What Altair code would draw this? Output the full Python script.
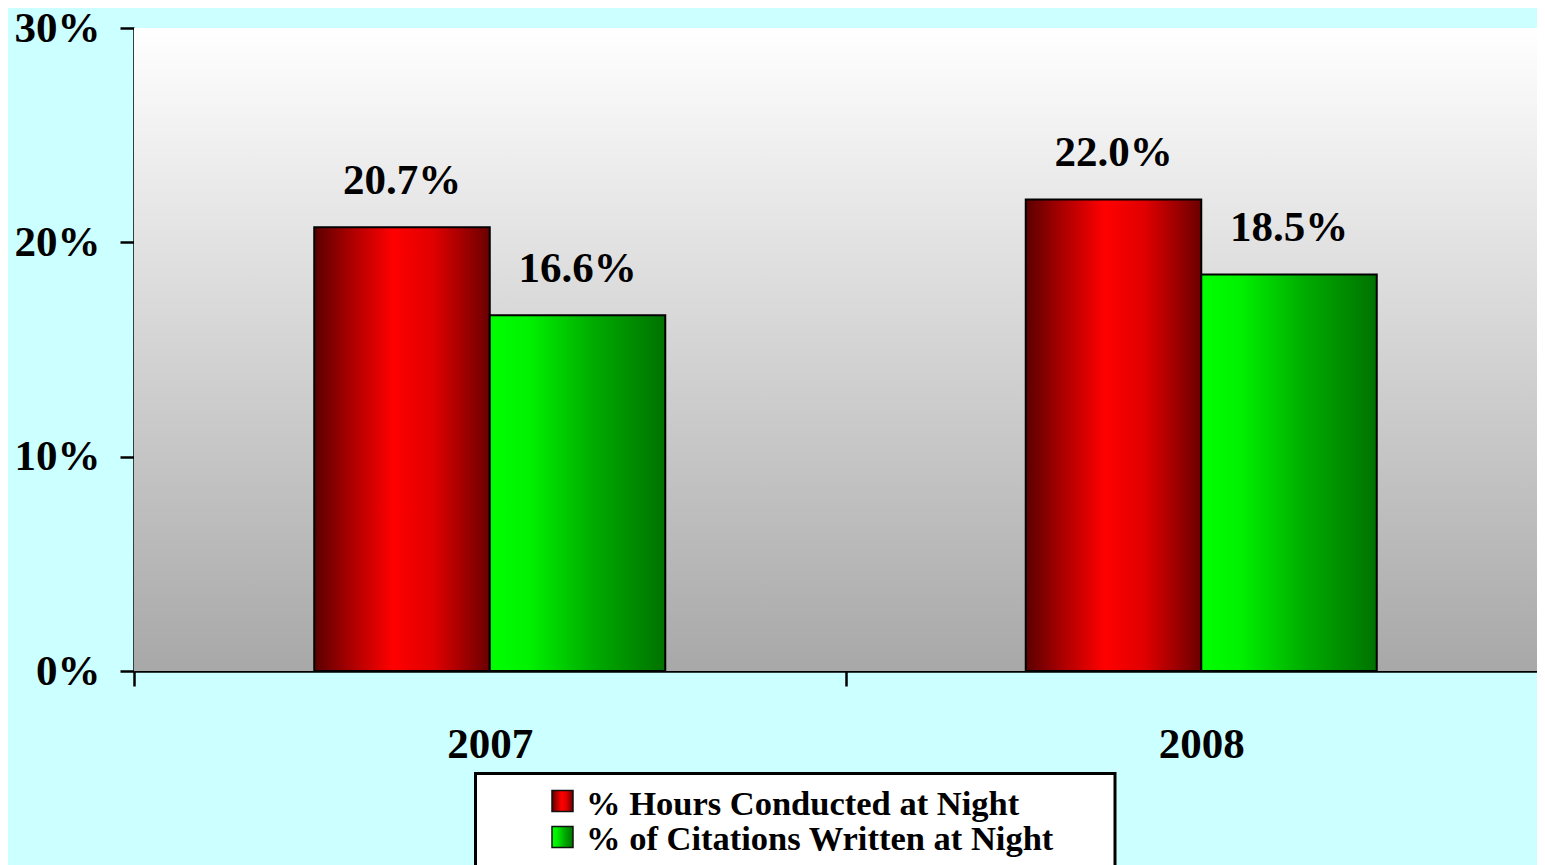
import altair as alt
import pandas as pd

# ---- data ----
years = ["2007", "2008"]
series = ["% Hours Conducted at Night", "% of Citations Written at Night"]
hours = [0.207, 0.220]
citations = [0.166, 0.185]
y_ticks = [0, 0.1, 0.2, 0.3]

rows = []
for i, yr in enumerate(years):
    rows.append({"year": yr, "series": series[0], "value": hours[i]})
    rows.append({"year": yr, "series": series[1], "value": citations[i]})
df = pd.DataFrame(rows)
leg_df = pd.DataFrame({"series": series})

FONT = "Liberation Serif"
W, H = 1403, 643


def grad(stops, horizontal=True):
    return alt.Gradient(
        gradient="linear",
        x1=0, y1=0,
        x2=1 if horizontal else 0,
        y2=0 if horizontal else 1,
        stops=[alt.GradientStop(color=c, offset=o) for o, c in stops],
    )


red_grad = grad([(0, "#5a0000"), (0.2, "#a80000"), (0.45, "#ff0000"),
                 (0.68, "#e00000"), (1, "#6a0000")])
green_grad = grad([(0, "#00ff00"), (0.22, "#00f200"), (0.6, "#00aa00"),
                   (1, "#007200")])
bg_grad = grad([(0, "#ffffff"), (1, "#a8a8a8")], horizontal=False)

x_enc = alt.X(
    "year:N",
    scale=alt.Scale(domain=years, range=[0, 1423],
                    paddingInner=0, paddingOuter=0),
    axis=alt.Axis(title=None, labelAngle=0),
)
xo_enc = alt.XOffset("series:N",
                     scale=alt.Scale(domain=series, range=[180.25, 531.25],
                                     paddingInner=0, paddingOuter=0))
y_enc = alt.Y(
    "value:Q",
    scale=alt.Scale(domain=[0, 0.3], nice=False),
    axis=alt.Axis(values=y_ticks, format=".0%", title=None, grid=False),
)

background = alt.Chart(alt.Data(values=[{}])).mark_rect(fill=bg_grad).encode(
    x=alt.value(0), x2=alt.value(W), y=alt.value(0), y2=alt.value(H)
)

base = alt.Chart(df)
red_bars = base.transform_filter(
    alt.FieldEqualPredicate(field="series", equal=series[0])
).mark_bar(fill=red_grad, stroke="black", strokeWidth=2).encode(
    x=x_enc, xOffset=xo_enc, y=y_enc
)
green_bars = base.transform_filter(
    alt.FieldEqualPredicate(field="series", equal=series[1])
).mark_bar(fill=green_grad, stroke="black", strokeWidth=2).encode(
    x=x_enc, xOffset=xo_enc, y=y_enc
)
labels = base.mark_text(
    dy=-33, baseline="alphabetic", align="center", font=FONT,
    fontWeight="bold", fontSize=43, color="black"
).encode(x=x_enc, xOffset=xo_enc, y=y_enc, text=alt.Text("value:Q", format=".1%"))

# ---- legend (drawn) ----
legend_box = alt.Chart(alt.Data(values=[{}])).mark_rect(
    fill="white", stroke="black", strokeWidth=3
).encode(x=alt.value(341.5), x2=alt.value(981), y=alt.value(745.5), y2=alt.value(870))

legend_layers = []
for i, (s, g) in enumerate(zip(series, [red_grad, green_grad])):
    sq = alt.Chart(alt.Data(values=[{}])).mark_square(
        size=441, fill=g, stroke="#111111", strokeWidth=1.5, opacity=1
    ).encode(x=alt.value(428.5), y=alt.value(773 + 36 * i))
    tx = alt.Chart(leg_df).transform_filter(
        alt.FieldEqualPredicate(field="series", equal=s)
    ).mark_text(
        align="left", baseline="alphabetic", font=FONT, fontWeight="bold",
        fontSize=34.5, color="black"
    ).encode(x=alt.value(452), y=alt.value(787 + 35 * i), text="series:N")
    legend_layers += [sq, tx]

chart = alt.layer(
    background, red_bars, green_bars, labels, legend_box, *legend_layers
).properties(
    width=W, height=H,
    autosize=alt.AutoSizeParams(type="none"),
    padding={"left": 126, "top": 20, "right": 0, "bottom": 194},
).configure(
    background="#CCFFFF"
).configure_view(
    stroke=None
).configure_axis(
    domainColor="black", domainWidth=2.5, tickColor="black", tickWidth=2.5,
    labelFont=FONT, labelFontWeight="bold", labelFontSize=43, labelColor="black",
    grid=False,
).configure_axisY(
    tickSize=14, labelPadding=20
).configure_axisX(
    tickSize=15, labelPadding=37, tickBand="extent"
)

chart.save("out.html", embed_options={"renderer": "svg", "actions": False})
